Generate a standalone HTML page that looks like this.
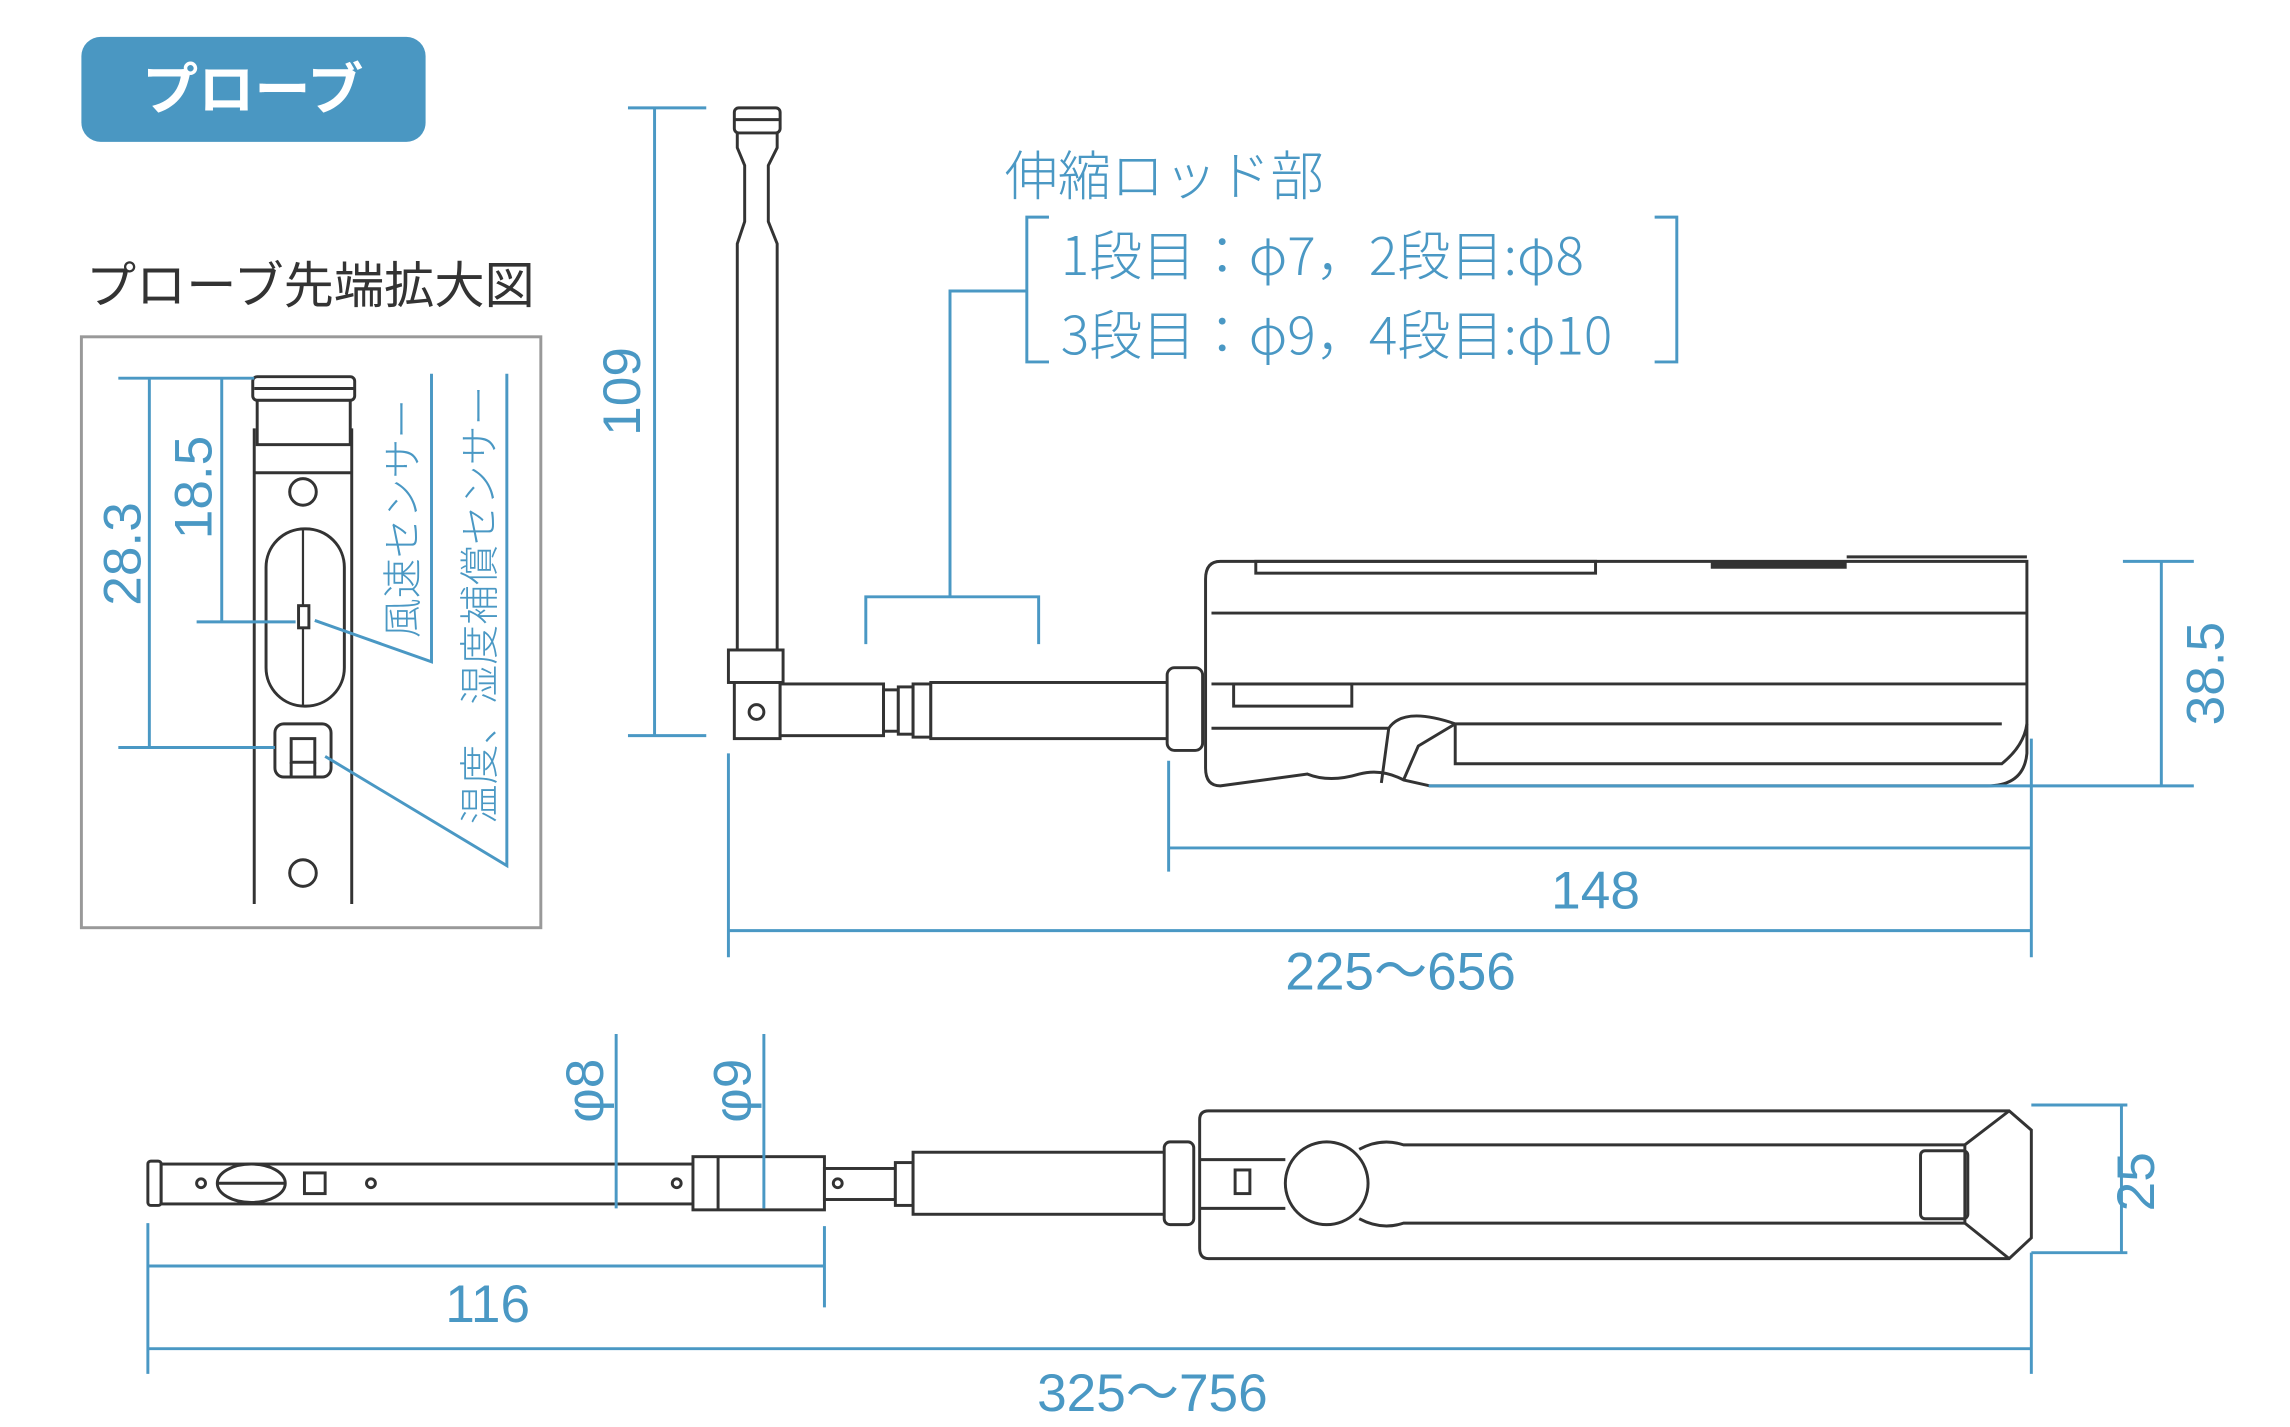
<!DOCTYPE html>
<html><head><meta charset="utf-8"><style>
html,body{margin:0;padding:0;background:#fff;width:2290px;height:1427px;overflow:hidden}
svg{display:block}
.b{fill:none;stroke:#4a98c4;stroke-width:2}
.k{fill:#fff;stroke:#333;stroke-width:2}
.kn{fill:none;stroke:#333;stroke-width:2}
.t{fill:#4a98c4;font-family:"Liberation Sans","Noto Sans CJK JP",sans-serif}
.j{fill:#4a98c4;font-family:"Noto Sans CJK JP",sans-serif;font-weight:300}
</style></head><body>
<svg width="2290" height="1427" viewBox="0 0 1550 966" xmlns="http://www.w3.org/2000/svg">
<!-- badge -->
<rect x="55" y="25" width="233" height="71" rx="13" fill="#4a97c2"/>
<text x="171" y="74" text-anchor="middle" fill="#fff" font-family="Noto Sans CJK JP,sans-serif" font-weight="700" font-size="38">プローブ</text>
<text x="58" y="205" fill="#333" font-family="Noto Sans CJK JP,sans-serif" font-size="34">プローブ先端拡大図</text>
<!-- enlarged box -->
<rect x="55" y="228" width="311" height="400" fill="none" stroke="#999" stroke-width="2"/>
<line x1="172" y1="290" x2="172" y2="612" class="kn"/>
<line x1="238" y1="290" x2="238" y2="612" class="kn"/>
<rect x="171" y="255" width="69" height="16" rx="3" class="k"/>
<line x1="172" y1="263" x2="240" y2="263" class="kn"/>
<rect x="174" y="271" width="63" height="30" class="k"/>
<line x1="172" y1="320" x2="238" y2="320" class="kn"/>
<circle cx="205" cy="333" r="9" class="k"/>
<circle cx="205" cy="591" r="9" class="k"/>
<rect x="180" y="358" width="53" height="120" rx="26" class="k"/>
<line x1="205" y1="358" x2="205" y2="478" stroke="#333" stroke-width="1.5"/>
<rect x="202" y="410" width="7" height="15" class="k" stroke-width="1.5"/>
<rect x="186" y="490" width="38" height="36" rx="6" class="k"/>
<rect x="197" y="500" width="16" height="16" class="kn"/>
<line x1="197" y1="516" x2="197" y2="526" class="kn"/><line x1="213" y1="516" x2="213" y2="526" class="kn"/>
<!-- box dims -->
<line x1="80" y1="256" x2="172" y2="256" class="b"/>
<line x1="133" y1="421" x2="200" y2="421" class="b"/>
<line x1="80" y1="506" x2="186" y2="506" class="b"/>
<line x1="101" y1="256" x2="101" y2="506" class="b"/>
<line x1="150" y1="256" x2="150" y2="421" class="b"/>
<text class="t" font-size="36" text-anchor="middle" transform="translate(95,375) rotate(-90)">28.3</text>
<text class="t" font-size="36" text-anchor="middle" transform="translate(143,330) rotate(-90)">18.5</text>
<polyline points="213,420 292,448 292,253" class="b"/>
<polyline points="220,512 343,586 343,253" class="b"/>
<text class="j" font-size="27" transform="translate(282,432) rotate(-90)">風速センサー</text>
<text class="j" font-size="27" transform="translate(334,558) rotate(-90)">温度、湿度補償センサー</text>
<!-- side view probe -->
<rect x="497" y="73" width="31" height="17" rx="3" class="k"/>
<line x1="497" y1="81" x2="528" y2="81" class="kn"/>
<path d="M499,90 L526,90 L526,100 L520,112 L520,150 L526,165 L526,440 L499,440 L499,165 L504,150 L504,112 L499,100 Z" class="k"/>
<rect x="493" y="440" width="37" height="22" class="k"/>
<rect x="497" y="462" width="31" height="38" class="k"/>
<circle cx="512" cy="482" r="5" class="k"/>
<rect x="528" y="463" width="70" height="35" class="k"/>
<rect x="598" y="467" width="10" height="28" class="k"/>
<rect x="608" y="465" width="10" height="32" class="k"/>
<rect x="618" y="463" width="12" height="36" class="k"/>
<rect x="630" y="462" width="162" height="38" class="k"/>
<rect x="790" y="452" width="24" height="56" rx="5" class="k"/>
<path d="M826,380 L1372,380 L1372,510 Q1370,532 1345,532 L1260,532 L985,532 L968,532 L950,528 Q935,520 920,524 Q900,530 885,524 L826,532 Q816,532 816,520 L816,392 Q816,380 826,380 Z" class="k"/>
<line x1="820" y1="415" x2="1372" y2="415" class="kn"/>
<line x1="820" y1="463" x2="1372" y2="463" class="kn"/>
<rect x="835" y="463" width="80" height="15" class="kn"/>
<rect x="850" y="380" width="230" height="8" class="kn"/>
<rect x="1158" y="380" width="92" height="5" fill="#333"/>
<line x1="1250" y1="377" x2="1372" y2="377" class="kn"/>
<path d="M820,493 L940,493 L935,530 M940,493 Q950,478 985,490 L985,517 L1355,517 Q1370,505 1372,490 L1372,490 M985,490 L1355,490" class="kn"/>
<path d="M950,528 L960,505 L985,490" class="kn"/>
<!-- side dims -->
<line x1="425" y1="73" x2="478" y2="73" class="b"/>
<line x1="425" y1="498" x2="478" y2="498" class="b"/>
<line x1="443" y1="73" x2="443" y2="498" class="b"/>
<text class="t" font-size="36" text-anchor="middle" transform="translate(433,265) rotate(-90)">109</text>
<text class="j" font-size="36" x="680" y="132">伸縮ロッド部</text>
<polyline points="710,147 695,147 695,245 710,245" class="b"/>
<polyline points="1120,147 1135,147 1135,245 1120,245" class="b"/>
<text class="j" font-size="36" x="718" y="186">1段目：φ7，2段目:φ8</text>
<text class="j" font-size="36" x="718" y="240">3段目：φ9，4段目:φ10</text>
<polyline points="695,197 643,197 643,404" class="b"/>
<polyline points="586,436 586,404 703,404 703,436" class="b"/>
<line x1="1437" y1="380" x2="1485" y2="380" class="b"/>
<line x1="967" y1="532" x2="1485" y2="532" class="b"/>
<line x1="1463" y1="380" x2="1463" y2="532" class="b"/>
<text class="t" font-size="36" text-anchor="middle" transform="translate(1505,456) rotate(-90)">38.5</text>
<line x1="791" y1="515" x2="791" y2="590" class="b"/>
<line x1="1375" y1="500" x2="1375" y2="648" class="b"/>
<line x1="791" y1="574" x2="1375" y2="574" class="b"/>
<text class="t" font-size="36" x="1080" y="615" text-anchor="middle">148</text>
<line x1="493" y1="510" x2="493" y2="648" class="b"/>
<line x1="493" y1="630" x2="1375" y2="630" class="b"/>
<text class="t" font-size="36" x="948" y="670" text-anchor="middle">225～656</text>
<!-- bottom view -->
<rect x="100" y="786" width="9" height="30" rx="2" class="k"/>
<rect x="109" y="788" width="360" height="27" class="k"/>
<ellipse cx="170" cy="801" rx="23" ry="13" class="k"/>
<line x1="147" y1="801" x2="193" y2="801" class="kn"/>
<circle cx="136" cy="801" r="3" class="k"/>
<rect x="206" y="794" width="14" height="14" class="k"/>
<circle cx="251" cy="801" r="3" class="k"/>
<circle cx="458" cy="801" r="3" class="k"/>
<rect x="469" y="783" width="89" height="36" class="k"/>
<line x1="486" y1="783" x2="486" y2="819" class="kn"/>
<rect x="558" y="791" width="48" height="21" class="k"/>
<circle cx="567" cy="801" r="3" class="k"/>
<rect x="606" y="787" width="12" height="29" class="k"/>
<rect x="618" y="780" width="174" height="42" class="k"/>
<rect x="788" y="773" width="20" height="56" rx="4" class="k"/>
<path d="M818,752 L1360,752 L1375,765 L1375,838 L1360,852 L818,852 Q812,852 812,845 L812,758 Q812,752 818,752 Z" class="k"/>
<line x1="812" y1="785" x2="870" y2="785" class="kn"/>
<line x1="812" y1="818" x2="870" y2="818" class="kn"/>
<rect x="836" y="792" width="10" height="16" class="kn"/>
<path d="M920,778 Q935,770 950,775 L1300,775 L1330,775 L1330,828 L950,828 Q935,833 920,825" class="kn"/>
<path d="M1330,775 L1360,752 M1330,828 L1360,852" class="kn"/>
<rect x="1300" y="779" width="32" height="46" rx="3" class="kn"/>
<circle cx="898" cy="801" r="28" class="k"/>
<line x1="417" y1="700" x2="417" y2="818" class="b" stroke-width="1.5"/>
<line x1="517" y1="700" x2="517" y2="818" class="b" stroke-width="1.5"/>
<text class="t" font-size="36" transform="translate(408,760) rotate(-90)">φ8</text>
<text class="t" font-size="36" transform="translate(508,760) rotate(-90)">φ9</text>
<line x1="1375" y1="748" x2="1440" y2="748" class="b"/>
<line x1="1375" y1="848" x2="1440" y2="848" class="b"/>
<line x1="1436" y1="748" x2="1436" y2="848" class="b"/>
<text class="t" font-size="36" text-anchor="middle" transform="translate(1458,800) rotate(-90)">25</text>
<line x1="100" y1="828" x2="100" y2="930" class="b"/>
<line x1="558" y1="830" x2="558" y2="885" class="b"/>
<line x1="100" y1="857" x2="558" y2="857" class="b"/>
<text class="t" font-size="36" x="330" y="895" text-anchor="middle">116</text>
<line x1="1375" y1="848" x2="1375" y2="930" class="b"/>
<line x1="100" y1="913" x2="1375" y2="913" class="b"/>
<text class="t" font-size="36" x="780" y="955" text-anchor="middle">325～756</text>
</svg>
</body></html>
